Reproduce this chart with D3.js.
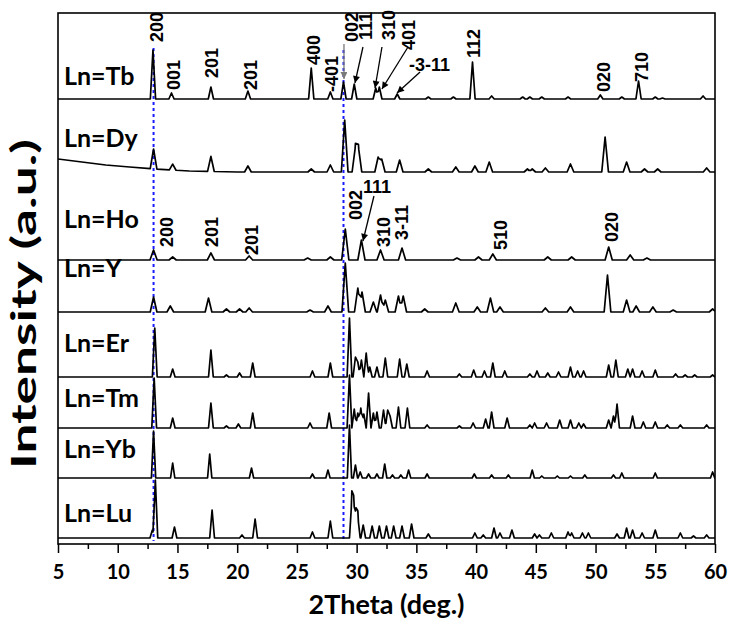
<!DOCTYPE html>
<html>
<head>
<meta charset="utf-8">
<script src="https://cdn.jsdelivr.net/npm/d3@7"></script>
<style>
  body { margin: 0; background: #fff; }
  .peak-label { font-family: 'Liberation Sans', Arial, sans-serif; font-weight: bold; font-size: 18px; fill: #000; }
  .ln-label { font-family: Lato, sans-serif; font-weight: bold; font-size: 25px; fill: #000; }
  .axis text { font-family: Lato, sans-serif; font-weight: bold; font-size: 20px; fill: #000; }
  .axis-title { font-family: Lato, sans-serif; font-weight: bold; fill: #000; }
</style>
</head>
<body>
<svg id="chart" width="729" height="630"></svg>
<script>
// samples, top to bottom, and the vertical offset of each pattern (a.u.)
var samples = ['Tb', 'Dy', 'Ho', 'Y', 'Er', 'Tm', 'Yb', 'Lu'];
var offsets = [445, 372, 284, 232, 167, 116, 66, 6];

// peaks: [2theta, intensity above baseline]
var tbPeaks = [[12.95, 49], [14.5, 6], [17.8, 12], [20.9, 8], [26.2, 31], [27.8, 7], [28.9, 17], [29.8, 15],
  [31.6, 11], [31.9, 12], [33.4, 5], [36.0, 2], [38.1, 2], [39.7, 37], [41.3, 3], [43.9, 2], [44.5, 2],
  [45.5, 2], [47.7, 2], [50.4, 4], [52.2, 2], [53.6, 18], [55.0, 2], [55.6, 1], [59.0, 3]];
var dyPeaks = [[13.0, 20], [14.6, 6], [17.8, 15], [20.9, 6], [26.2, 3], [27.8, 7], [29.0, 52], [29.9, 26],
  [30.15, 25], [31.8, 15], [32.1, 13], [33.6, 12], [36.0, 3], [38.3, 5], [39.9, 6], [41.1, 10], [44.3, 3],
  [44.7, 3], [45.8, 4], [47.9, 8], [50.8, 35], [52.6, 10], [54.1, 3], [55.2, 3], [59.3, 4]];
var hoPeaks = [[13.0, 10], [14.6, 3], [17.8, 7], [21.0, 4], [25.9, 2], [27.8, 3], [29.05, 31], [30.4, 20],
  [32.0, 10], [33.8, 12], [38.4, 2], [40.2, 3], [41.4, 6], [46.0, 3], [48.0, 3], [51.1, 13], [52.9, 5], [54.3, 2]];
var yPeaks = [[13.0, 15], [14.4, 6], [17.6, 14], [19.1, 3], [20.2, 3], [21.0, 4], [26.1, 2], [27.6, 6],
  [29.05, 49], [30.1, 24], [30.45, 20], [31.4, 10], [32.0, 17], [32.4, 12], [33.5, 16], [33.9, 16], [35.7, 3],
  [38.3, 9], [40.1, 5], [41.2, 14], [42.0, 5], [45.8, 4], [47.9, 5], [51.0, 37], [52.6, 12], [53.4, 6],
  [54.8, 5], [56.5, 2], [59.8, 3]];
var erPeaks = [[13.1, 49], [14.6, 8], [17.8, 27], [19.1, 2], [20.2, 4], [21.3, 14], [26.3, 6], [27.8, 14],
  [29.4, 59], [29.9, 20], [30.1, 15], [30.4, 17], [30.8, 24], [31.1, 10], [31.7, 10], [32.4, 19], [33.6, 18],
  [34.2, 13], [35.9, 6], [38.6, 3], [39.8, 7], [40.7, 6], [41.4, 14], [42.4, 6], [44.5, 3], [45.1, 6],
  [46.0, 4], [46.9, 5], [47.9, 10], [48.5, 6], [49.0, 6], [51.1, 12], [51.7, 17], [52.7, 8], [53.1, 8],
  [53.9, 6], [55.0, 7], [56.7, 3], [57.5, 2], [58.3, 2], [59.8, 2]];
var tmPeaks = [[13.05, 50], [14.6, 10], [17.8, 25], [19.1, 2], [20.1, 4], [21.3, 15], [26.1, 5], [27.7, 15],
  [29.4, 53], [29.8, 19], [30.1, 15], [30.35, 20], [30.6, 14], [31.0, 35], [31.4, 15], [31.7, 16], [32.25, 18],
  [32.6, 18], [32.8, 12], [33.5, 21], [34.25, 20], [35.9, 3], [38.6, 2], [39.75, 5], [40.8, 9], [41.3, 16],
  [42.6, 10], [44.5, 3], [44.9, 5], [45.9, 5], [47.0, 8], [47.9, 8], [48.6, 5], [49.0, 4], [51.1, 8],
  [51.5, 12], [51.8, 24], [53.1, 12], [54.0, 6], [55.0, 6], [56.0, 3], [57.1, 3], [59.3, 3]];
var ybPeaks = [[13.0, 47], [14.6, 15], [17.7, 24], [21.2, 10], [26.3, 4], [27.6, 8], [29.4, 53], [29.9, 13],
  [30.3, 6], [31.0, 4], [31.7, 4], [32.35, 14], [33.0, 3], [33.7, 3], [34.35, 8], [35.9, 4], [39.85, 4],
  [41.3, 3], [42.7, 3], [44.7, 8], [45.5, 2], [46.8, 2], [47.9, 2], [49.1, 3], [51.5, 3], [52.2, 5],
  [55.0, 5], [59.8, 6]];
var luPeaks = [[12.9, 8], [13.15, 58], [14.75, 11], [17.9, 28], [20.4, 3], [21.5, 19], [26.3, 6], [27.8, 17],
  [29.6, 39], [29.75, 33], [29.95, 25], [30.1, 21], [30.55, 13], [31.3, 12], [31.9, 12], [32.5, 12], [33.1, 12],
  [33.8, 12], [34.6, 14], [36.0, 4], [39.9, 5], [40.6, 3], [41.5, 10], [42.0, 5], [43.0, 8], [44.9, 4],
  [45.3, 3], [46.3, 5], [47.7, 6], [48.0, 5], [48.9, 5], [49.4, 5], [51.8, 4], [52.6, 10], [53.1, 8],
  [53.9, 5], [55.0, 8], [57.1, 5], [58.2, 2], [59.3, 3]];

// Dy has a rising background at low angle
var dyBackground = [[5, 13], [7, 10], [9, 7], [11, 5], [13, 3], [16, 1], [20, 0], [60, 0]];
var flatBackground = [[5, 0], [60, 0]];

// dashed reference lines: [2theta, top (a.u.)]
var refLines = [[13.0, 496], [28.9, 494]];

var xTicks = [5, 10, 15, 20, 25, 30, 35, 40, 45, 50, 55, 60];
var xMinorTicks = [7.5, 12.5, 17.5, 22.5, 27.5, 32.5, 37.5, 42.5, 47.5, 52.5, 57.5];

// Miller index labels: [text, 2theta, a.u.]
var tbLabels = [['200', 13.79, 502], ['001', 15.21, 454], ['201', 18.39, 466], ['201', 21.66, 454],
  ['400', 26.93, 479], ['-401', 28.44, 452], ['002', 30.12, 502], ['111', 31.29, 504], ['310', 33.21, 504],
  ['401', 34.89, 494], ['112', 40.33, 486], ['020', 51.21, 452], ['710', 54.39, 462]];
var hoLabels = [['200', 14.63, 297], ['201', 18.39, 297], ['201', 21.74, 289], ['002', 30.45, 324],
  ['310', 32.79, 297], ['3-11', 34.30, 304], ['510', 42.59, 294], ['020', 51.88, 302]];
var flatLabels = [['-3-11', 34.38, 473], ['111', 30.53, 351]];
var sampleLabelPos = [459, 397, 316, 267, 192, 137, 86, 22];

// arrows: [x1, y1, x2, y2]; the first one is grey
var arrows = [[28.94, 500, 28.94, 465], [30.53, 497, 29.86, 461], [32.12, 497, 31.54, 456],
  [34.30, 497, 32.12, 455], [35.31, 472, 33.38, 451], [31.45, 348, 30.53, 303]];

var peakSets = [tbPeaks, dyPeaks, hoPeaks, yPeaks, erPeaks, tmPeaks, ybPeaks, luPeaks];
var halfWidths = [0.22, 0.28, 0.3, 0.28, 0.2, 0.2, 0.18, 0.2];

var box = {left: 58, right: 715, top: 13, bottom: 544};

var svg = d3.select('#chart');

var x = d3.scaleLinear().domain([5, 60]).range([box.left, box.right]);
var y = d3.scaleLinear().domain([0, 531]).range([box.bottom, box.top]);

// piecewise-linear pattern from the peak list
function pattern(peaks, hw, bg, offset) {
  var bgScale = d3.scaleLinear()
    .domain(bg.map(function(d) { return d[0]; }))
    .range(bg.map(function(d) { return d[1]; }))
    .clamp(true);
  var xs = [5, 60];
  bg.forEach(function(d) { xs.push(d[0]); });
  peaks.forEach(function(p) { xs.push(p[0] - hw, p[0], p[0] + hw); });
  xs = Array.from(new Set(xs))
    .filter(function(t) { return t >= 5 && t <= 60; })
    .sort(d3.ascending);
  return xs.map(function(t) {
    var v = bgScale(t);
    peaks.forEach(function(p) {
      var d = Math.abs(t - p[0]);
      if (d < hw) {
        v += p[1] * (1 - d / hw);
      }
    });
    return [t, offset + v];
  });
}

var defs = svg.append('defs');
defs.append('clipPath').attr('id', 'plot-clip')
  .append('rect')
  .attr('x', box.left).attr('y', box.top)
  .attr('width', box.right - box.left).attr('height', box.bottom - box.top);

[['arrow-black', '#000'], ['arrow-grey', '#7a7a7a']].forEach(function(m) {
  defs.append('marker')
    .attr('id', m[0])
    .attr('viewBox', '0 0 10 10')
    .attr('refX', 10).attr('refY', 5)
    .attr('markerWidth', 10).attr('markerHeight', 7)
    .attr('markerUnits', 'userSpaceOnUse')
    .attr('orient', 'auto')
    .append('path')
    .attr('d', 'M0,0 L10,5 L0,10 z')
    .attr('fill', m[1]);
});

var line = d3.line()
  .x(function(d) { return x(d[0]); })
  .y(function(d) { return y(d[1]); });

// blue dashed guides
svg.append('g').selectAll('line')
  .data(refLines)
  .enter()
  .append('line')
  .attr('x1', function(d) { return x(d[0]); })
  .attr('x2', function(d) { return x(d[0]); })
  .attr('y1', function(d) { return y(d[1]); })
  .attr('y2', y(3))
  .attr('stroke', '#1a1aff')
  .attr('stroke-width', 2)
  .attr('stroke-dasharray', '3,3');

// patterns
svg.append('g')
  .attr('clip-path', 'url(#plot-clip)')
  .selectAll('path')
  .data(samples)
  .enter()
  .append('path')
  .attr('d', function(s, i) {
    var bg = s === 'Dy' ? dyBackground : flatBackground;
    return line(pattern(peakSets[i], halfWidths[i], bg, offsets[i]));
  })
  .attr('fill', 'none')
  .attr('stroke', '#000')
  .attr('stroke-width', 1.7)
  .attr('stroke-linejoin', 'round');

// frame
svg.append('rect')
  .attr('x', box.left).attr('y', box.top)
  .attr('width', box.right - box.left).attr('height', box.bottom - box.top)
  .attr('fill', 'none')
  .attr('stroke', '#000')
  .attr('stroke-width', 1.6);

// bottom axis, major and minor ticks
var axisMajor = svg.append('g')
  .attr('class', 'axis')
  .attr('transform', 'translate(0,' + box.bottom + ')')
  .call(d3.axisBottom(x).tickValues(xTicks).tickSize(9).tickPadding(12).tickFormat(d3.format('d')));
var axisMinor = svg.append('g')
  .attr('class', 'axis')
  .attr('transform', 'translate(0,' + box.bottom + ')')
  .call(d3.axisBottom(x).tickValues(xMinorTicks).tickSize(5).tickFormat(''));
[axisMajor, axisMinor].forEach(function(g) {
  g.select('.domain').remove();
  g.selectAll('line').attr('stroke', '#000').attr('stroke-width', 1.5);
});

// sample names
svg.append('g').selectAll('text')
  .data(samples)
  .enter()
  .append('text')
  .attr('class', 'ln-label')
  .attr('x', x(5.5))
  .attr('y', function(s, i) { return y(sampleLabelPos[i]); })
  .text(function(s) { return 'Ln=' + s; });

// rotated Miller indices
svg.append('g').selectAll('text')
  .data(tbLabels.concat(hoLabels))
  .enter()
  .append('text')
  .attr('class', 'peak-label')
  .attr('transform', function(d) {
    return 'translate(' + x(d[1]) + ',' + y(d[2]) + ') rotate(-90)';
  })
  .text(function(d) { return d[0]; });

svg.append('g').selectAll('text')
  .data(flatLabels)
  .enter()
  .append('text')
  .attr('class', 'peak-label')
  .attr('x', function(d) { return x(d[1]); })
  .attr('y', function(d) { return y(d[2]); })
  .text(function(d) { return d[0]; });

svg.append('g').selectAll('line')
  .data(arrows)
  .enter()
  .append('line')
  .attr('x1', function(d) { return x(d[0]); })
  .attr('y1', function(d) { return y(d[1]); })
  .attr('x2', function(d) { return x(d[2]); })
  .attr('y2', function(d) { return y(d[3]); })
  .attr('stroke', function(d, i) { return i === 0 ? '#7a7a7a' : '#000'; })
  .attr('stroke-width', 1.3)
  .attr('marker-end', function(d, i) { return i === 0 ? 'url(#arrow-grey)' : 'url(#arrow-black)'; });

// axis titles
svg.append('text')
  .attr('class', 'axis-title')
  .attr('x', (box.left + box.right) / 2)
  .attr('y', 614)
  .attr('text-anchor', 'middle')
  .style('font-size', '27px')
  .text('2Theta (deg.)');

svg.append('text')
  .attr('class', 'axis-title')
  .attr('transform', 'translate(36,304) rotate(-90)')
  .attr('text-anchor', 'middle')
  .attr('textLength', 330)
  .attr('lengthAdjust', 'spacingAndGlyphs')
  .style('font-size', '34px')
  .text('Intensity (a.u.)');
</script>
</body>
</html>
